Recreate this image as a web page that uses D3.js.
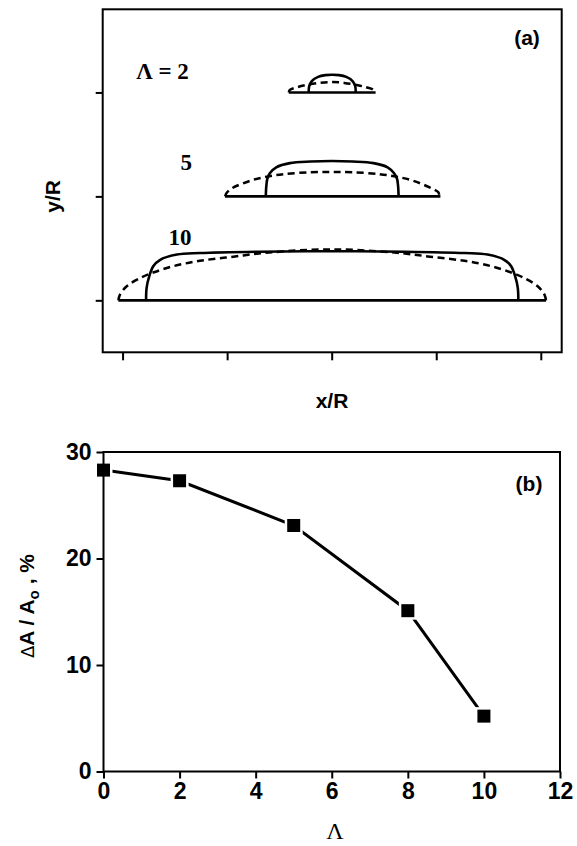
<!DOCTYPE html>
<html>
<head>
<meta charset="utf-8">
<script src="https://cdn.jsdelivr.net/npm/d3@7"></script>
<style>
  body { margin: 0; background: #fff; }
  svg { display: block; }
  .tick text { font-family: "Liberation Sans", Arial, sans-serif; font-weight: bold; font-size: 23px; fill: #000; }
  .tick line { stroke: #000; stroke-width: 2px; }
</style>
</head>
<body>
<svg id="chart" width="577" height="846"></svg>
<script>
// ---- panel (a): drop profiles, x/R vs height above the baseline ----
var levels = [2, 1, 0];                 // baseline of each profile (y tick)
var lambdaLabels = ["\u039B = 2", "5", "10"];

var solid2 = [[-0.22,0],[-0.215,0.06],[-0.19,0.11],[-0.13,0.15],[-0.06,0.167],[0.005,0.17],[0.07,0.167],[0.14,0.15],[0.2,0.11],[0.225,0.06],[0.23,0]];
var dashed2 = [[-0.41,0],[-0.4,0.025],[-0.33,0.05],[-0.25,0.07],[-0.12,0.092],[0,0.1],[0.12,0.092],[0.25,0.07],[0.33,0.05],[0.4,0.025],[0.415,0]];
var base2 = [-0.41, 0.42];

var solid5 = [[-0.63,0],[-0.625,0.1],[-0.615,0.17],[-0.59,0.225],[-0.53,0.28],[-0.4,0.32],[-0.2,0.335],[0,0.34],[0.2,0.335],[0.4,0.32],[0.535,0.28],[0.595,0.225],[0.625,0.17],[0.635,0.1],[0.64,0]];
var dashed5 = [[-1.02,0],[-1.0,0.04],[-0.95,0.08],[-0.78,0.15],[-0.62,0.19],[-0.45,0.215],[-0.2,0.232],[0,0.235],[0.2,0.232],[0.45,0.215],[0.62,0.19],[0.78,0.15],[0.95,0.08],[1.02,0.04],[1.03,0]];
var base5 = [-1.02, 1.04];

var solid10 = [[-1.775,0],[-1.77,0.12],[-1.745,0.23],[-1.705,0.33],[-1.64,0.39],[-1.48,0.44],[-1.26,0.455],[-0.7,0.468],[0,0.472],[0.7,0.468],[1.27,0.455],[1.49,0.44],[1.65,0.39],[1.715,0.33],[1.755,0.23],[1.78,0.12],[1.785,0]];
var dashed10 = [[-2.04,0],[-2.025,0.055],[-1.96,0.135],[-1.83,0.215],[-1.7,0.27],[-1.51,0.33],[-1.26,0.38],[-0.94,0.42],[-0.6,0.46],[0,0.49],[0.6,0.46],[0.94,0.42],[1.27,0.38],[1.52,0.33],[1.71,0.27],[1.84,0.215],[1.97,0.135],[2.035,0.055],[2.05,0]];
var base10 = [-2.04, 2.05];

var xTicksA = [-2, -1, 0, 1, 2];

// ---- panel (b): area change vs Lambda ----
var lambdaVals = [0, 2, 5, 8, 10];
var dAvals = [28.3, 27.3, 23.1, 15.1, 5.2];
var xTicksB = [0, 2, 4, 6, 8, 10, 12];
var yTicksB = [0, 10, 20, 30];

var svg = d3.select("#chart");
var sans = "'Liberation Sans', Arial, sans-serif",
    serif = "'Liberation Serif', 'Times New Roman', serif";

// ================= panel (a) =================
var xa = d3.scaleLinear().domain([-2.19, 2.2]).range([102.7, 561.7]);
var ya = d3.scaleLinear().domain([-0.5, 2.8]).range([352.3, 9.3]);

var ga = svg.append("g");

var profiles = [
  {level: levels[0], solid: solid2, dashed: dashed2, base: base2},
  {level: levels[1], solid: solid5, dashed: dashed5, base: base5},
  {level: levels[2], solid: solid10, dashed: dashed10, base: base10}
];

profiles.forEach(function(p) {
  var line = d3.line()
      .x(function(d) { return xa(d[0]); })
      .y(function(d) { return ya(p.level + d[1]); })
      .curve(d3.curveCatmullRom.alpha(0.5));

  ga.append("path")
      .attr("d", line(p.dashed))
      .attr("fill", "none")
      .attr("stroke", "#000")
      .attr("stroke-width", 2.5)
      .attr("stroke-dasharray", "7,4.5");

  ga.append("path")
      .attr("d", line(p.solid))
      .attr("fill", "none")
      .attr("stroke", "#000")
      .attr("stroke-width", 2.6);

  ga.append("line")
      .attr("x1", xa(p.base[0])).attr("x2", xa(p.base[1]))
      .attr("y1", ya(p.level)).attr("y2", ya(p.level))
      .attr("stroke", "#000")
      .attr("stroke-width", 2.6);
});

// Lambda labels
var labelPos = [[-1.87, 2.13, "start"], [-1.39, 1.25, "middle"], [-1.45, 0.535, "middle"]];
labelPos.forEach(function(lp, i) {
  ga.append("text")
      .attr("x", xa(lp[0])).attr("y", ya(lp[1]))
      .attr("text-anchor", lp[2])
      .attr("font-family", serif)
      .attr("font-weight", "bold")
      .attr("font-size", 23)
      .text(lambdaLabels[i]);
});

ga.append("rect")
    .attr("x", xa.range()[0]).attr("y", ya.range()[1])
    .attr("width", xa.range()[1] - xa.range()[0])
    .attr("height", ya.range()[0] - ya.range()[1])
    .attr("fill", "none").attr("stroke", "#000").attr("stroke-width", 2);

ga.append("g")
    .attr("transform", "translate(0," + ya.range()[0] + ")")
    .call(d3.axisBottom(xa).tickValues(xTicksA).tickFormat("").tickSizeOuter(0).tickSize(8))
    .call(function(g) { g.select(".domain").remove(); });

ga.append("g")
    .attr("transform", "translate(" + xa.range()[0] + ",0)")
    .call(d3.axisLeft(ya).tickValues(levels).tickFormat("").tickSizeOuter(0).tickSize(7))
    .call(function(g) { g.select(".domain").remove(); });

ga.append("text")
    .attr("x", 527).attr("y", 45)
    .attr("text-anchor", "middle")
    .attr("font-family", sans).attr("font-weight", "bold").attr("font-size", 21)
    .text("(a)");

ga.append("text")
    .attr("x", 332).attr("y", 408)
    .attr("text-anchor", "middle")
    .attr("font-family", sans).attr("font-weight", "bold").attr("font-size", 21)
    .text("x/R");

ga.append("text")
    .attr("transform", "translate(60," + ya(1) + ") rotate(-90)")
    .attr("text-anchor", "middle")
    .attr("font-family", sans).attr("font-weight", "bold").attr("font-size", 21)
    .text("y/R");

// ================= panel (b) =================
var xb = d3.scaleLinear().domain([0, 12]).range([103.5, 560]);
var yb = d3.scaleLinear().domain([0, 30]).range([771.5, 452]);

var gb = svg.append("g");
var pts = lambdaVals.map(function(v, i) { return [v, dAvals[i]]; });

gb.append("path")
    .attr("d", d3.line().x(function(d) { return xb(d[0]); }).y(function(d) { return yb(d[1]); })(pts))
    .attr("fill", "none")
    .attr("stroke", "#000")
    .attr("stroke-width", 3);

// white halo so the line stops short of each marker
gb.selectAll(".halo")
    .data(pts)
    .enter().append("rect")
    .attr("class", "halo")
    .attr("x", function(d) { return xb(d[0]) - 9; })
    .attr("y", function(d) { return yb(d[1]) - 9; })
    .attr("width", 18).attr("height", 18)
    .attr("fill", "#fff");

gb.selectAll(".mark")
    .data(pts)
    .enter().append("rect")
    .attr("class", "mark")
    .attr("x", function(d) { return xb(d[0]) - 6.5; })
    .attr("y", function(d) { return yb(d[1]) - 6.5; })
    .attr("width", 13).attr("height", 13)
    .attr("fill", "#000");

gb.append("rect")
    .attr("x", xb.range()[0]).attr("y", yb.range()[1])
    .attr("width", xb.range()[1] - xb.range()[0])
    .attr("height", yb.range()[0] - yb.range()[1])
    .attr("fill", "none").attr("stroke", "#000").attr("stroke-width", 2);

gb.append("g")
    .attr("transform", "translate(0," + yb.range()[0] + ")")
    .call(d3.axisBottom(xb).tickValues(xTicksB).tickFormat(d3.format("d")).tickSizeOuter(0).tickSize(7).tickPadding(4))
    .call(function(g) { g.select(".domain").remove(); });

gb.append("g")
    .attr("transform", "translate(" + xb.range()[0] + ",0)")
    .call(d3.axisLeft(yb).tickValues(yTicksB).tickFormat(d3.format("d")).tickSizeOuter(0).tickSize(7).tickPadding(5))
    .call(function(g) { g.select(".domain").remove(); });

gb.append("text")
    .attr("x", 529).attr("y", 491)
    .attr("text-anchor", "middle")
    .attr("font-family", sans).attr("font-weight", "bold").attr("font-size", 21)
    .text("(b)");

gb.append("text")
    .attr("x", 335).attr("y", 839)
    .attr("text-anchor", "middle")
    .attr("font-family", serif).attr("font-size", 24)
    .text("\u039B");

var ylab = gb.append("text")
    .attr("transform", "translate(34,606) rotate(-90)")
    .attr("text-anchor", "middle")
    .attr("font-family", sans).attr("font-weight", "bold").attr("font-size", 21);
ylab.append("tspan").attr("font-weight", "normal").attr("font-family", "'DejaVu Sans', sans-serif").attr("font-size", 18).text("\u0394");
ylab.append("tspan").text("A / A");
ylab.append("tspan").attr("font-size", 15).attr("dy", 5).text("o");
ylab.append("tspan").attr("dy", -5).text(" , %");
</script>
</body>
</html>
